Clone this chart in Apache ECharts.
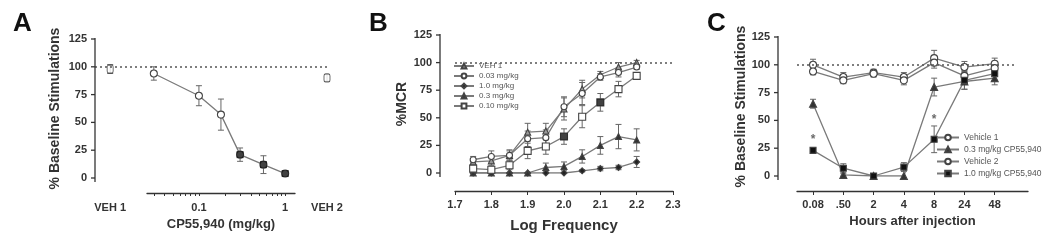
<!DOCTYPE html>
<html><head><meta charset="utf-8">
<script src="https://cdn.jsdelivr.net/npm/echarts@6/dist/echarts.min.js"></script>
<style>html,body{margin:0;padding:0;background:#fff}#c{width:1050px;height:241px}</style>
</head><body><div id="c"></div>
<script>
// ---------- Panel A ----------
const aDoses = [0.03, 0.1, 0.18, 0.3, 0.56, 1.0];
const aMeans = [94, 74, 57, 21, 12, 4];
const aErrs = [6, 9, 14, 6, 8, 2];
const aSignificant = [0, 0, 0, 1, 1, 1];
const aTickValues = [0.03,0.04,0.05,0.06,0.07,0.08,0.09,0.1,0.2,0.3,0.4,0.5,0.6,0.7,0.8,0.9,1];
const aLabelValues = [0.1, 1];
const vehLabels = ['VEH 1', 'VEH 2'];
const vehMeans = [98, 90];
const vehErrs = [4, 3];

// ---------- Panel B ----------
const bFreq = [1.75, 1.8, 1.85, 1.9, 1.95, 2.0, 2.05, 2.1, 2.15, 2.2];
const bNames = ['VEH 1', '0.03 mg/kg', '1.0 mg/kg', '0.3 mg/kg', '0.10 mg/kg'];
const bVeh1 = [10, 11, 16, 37, 38, 58, 76, 89, 96, 100];
const bVeh1Err = [3, 4, 4, 8, 7, 10, 8, 3, 4, 2];
const b003 = [12, 15, 16, 31, 32, 60, 72, 87, 91, 96];
const b003Err = [3, 5, 5, 7, 7, 9, 10, 3, 4, 2];
const b10 = [0, 0, 0, 0, 0, 0, 2, 4, 5, 10];
const b10Err = [0, 0, 0, 0, 0, 0, 1, 2, 2, 5];
const b03 = [0, 0, 0, 0, 5, 6, 15, 25, 33, 30];
const b03Err = [0, 0, 0, 0, 4, 4, 6, 8, 11, 10];
const b010 = [4, 3, 7, 20, 24, 33, 51, 64, 76, 88];
const b010Err = [3, 3, 4, 7, 7, 7, 10, 8, 7, 3];
const b010Significant = [0, 0, 0, 0, 0, 1, 0, 1, 0, 0];

// ---------- Panel C ----------
const cHours = ['0.08', '.50', '2', '4', '8', '24', '48'];
const cNames = ['Vehicle 1', '0.3 mg/kg CP55,940', 'Vehicle 2', '1.0 mg/kg CP55,940'];
const cVeh1 = [100, 89, 93, 89, 106, 98, 101];
const cVeh1Err = [5, 4, 3, 4, 7, 5, 5];
const cCp03 = [65, 1, 0, 0, 80, 85, 88];
const cCp03Err = [4, 1, 0, 0, 8, 7, 6];
const cVeh2 = [94, 86, 92, 86, 102, 90, 97];
const cVeh2Err = [3, 3, 3, 4, 5, 5, 5];
const cCp10 = [23, 7, 0, 8, 33, 86, 92];
const cCp10Err = [2, 4, 0, 4, 12, 8, 6];
const cStars = [[0, 33], [4, 51]];
const cIdx = cHours.map((_, i) => i);

const yMin = 0, yMax = 125, yInterval = 25;
const yTicks = [0, 25, 50, 75, 100, 125];
const baseline = 100;

// ---------- styles ----------
const FF = '"Liberation Sans", Arial, sans-serif';
const AX = '#333';
const LINE = '#7a7a7a';
const tickLbl = { color: AX, fontFamily: FF, fontWeight: 'bold', fontSize: 11 };
const nameStyle = (s) => ({ color: AX, fontFamily: FF, fontWeight: 'bold', fontSize: s });

function errSeries(xi, yi, xs, ys, es) {
  return {
    type: 'custom', xAxisIndex: xi, yAxisIndex: yi, z: 1, silent: true,
    data: xs.map((x, i) => [x, ys[i], es[i]]),
    encode: { x: 0, y: 1 },
    renderItem: function (params, api) {
      const x = api.value(0), y = api.value(1), e = api.value(2);
      if (!e) return null;
      const hi = api.coord([x, y + e]);
      const lo = api.coord([x, y - e]);
      const w = 3;
      const st = { stroke: '#666', lineWidth: 1 };
      return {
        type: 'group', children: [
          { type: 'line', shape: { x1: hi[0], y1: hi[1], x2: lo[0], y2: lo[1] }, style: st },
          { type: 'line', shape: { x1: hi[0] - w, y1: hi[1], x2: hi[0] + w, y2: hi[1] }, style: st },
          { type: 'line', shape: { x1: lo[0] - w, y1: lo[1], x2: lo[0] + w, y2: lo[1] }, style: st }
        ]
      };
    }
  };
}
// y-axis line and ticks, placed through the y scale, shifted left of the grid by an offset
function yAxisDraw(xi, yi, xAnchor, offset) {
  return {
    type: 'custom', xAxisIndex: xi, yAxisIndex: yi, z: 10, silent: true, clip: false,
    data: yTicks.map(v => [xAnchor, v]),
    encode: { x: 0, y: 1 },
    renderItem: function (params, api) {
      const x = params.coordSys.x - offset;
      const y = api.coord([api.value(0), api.value(1)])[1];
      const st = { stroke: AX, lineWidth: 1.3 };
      const children = [{ type: 'line', shape: { x1: x - 4, y1: y, x2: x, y2: y }, style: st }];
      if (params.dataIndex === 0) {
        const top = api.coord([api.value(0), yMax])[1];
        const bot = api.coord([api.value(0), yMin])[1];
        children.push({ type: 'line', shape: { x1: x, y1: top - 1, x2: x, y2: bot + 4 }, style: st });
      }
      return { type: 'group', children };
    }
  };
}
const dotted = { symbol: 'none', silent: true, label: { show: false },
  lineStyle: { type: [2, 3], color: '#555', width: 1.5 } };

function lineS(name, xi, yi, xs, ys, symbol, size, fill, z) {
  return {
    name, type: 'line', xAxisIndex: xi, yAxisIndex: yi, z: z || 3,
    data: xs.map((x, i) => [x, ys[i]]),
    symbol, symbolSize: size, showAllSymbol: true,
    itemStyle: { color: fill, borderColor: '#444', borderWidth: 1.1 },
    lineStyle: { color: LINE, width: 1.3 }
  };
}

const yBase = (gi, off, name, gap) => ({
  gridIndex: gi, type: 'value', min: yMin, max: yMax, interval: yInterval, offset: off,
  axisLine: { show: false, onZero: false },
  axisTick: { show: false },
  axisLabel: Object.assign({ margin: 8 }, tickLbl),
  splitLine: { show: false },
  name, nameLocation: 'middle', nameGap: gap, nameRotate: 90, nameTextStyle: nameStyle(14)
});
const titleStyle = { fontFamily: FF, fontWeight: 'bold', fontSize: 26, color: '#111' };

const option = {
  animation: false,
  title: [
    { text: 'A', left: 8, top: 6, textStyle: titleStyle },
    { text: 'B', left: 364, top: 6, textStyle: titleStyle },
    { text: 'C', left: 702, top: 6, textStyle: titleStyle }
  ],
  legend: [
    { data: bNames, orient: 'vertical', left: 453, top: 62, itemWidth: 20, itemHeight: 6, itemGap: 2,
      textStyle: { fontSize: 8, color: '#555', fontFamily: FF }, padding: 0 },
    { data: cNames, orient: 'vertical', left: 936, top: 133, itemWidth: 22, itemHeight: 7, itemGap: 3,
      textStyle: { fontSize: 8.5, color: '#555', fontFamily: FF }, padding: 0 }
  ],
  grid: [
    { left: 147, top: 39, width: 148, height: 139 },
    { left: 95, top: 39, width: 232, height: 139 },
    { left: 455, top: 35, width: 218, height: 138 },
    { left: 797, top: 37, width: 231, height: 139 }
  ],
  xAxis: [
    { gridIndex: 0, type: 'log', min: 0.025, max: 1.3, offset: 15,
      axisLine: { onZero: false, lineStyle: { color: AX, width: 1.3 } },
      axisTick: { show: true, customValues: aTickValues, length: 3, lineStyle: { color: AX } },
      axisLabel: Object.assign({ customValues: aLabelValues, margin: 9, formatter: v => String(+v) }, tickLbl),
      splitLine: { show: false },
      name: 'CP55,940 (mg/kg)', nameLocation: 'middle', nameGap: 23, nameTextStyle: nameStyle(13) },
    { gridIndex: 1, type: 'value', min: -0.07, max: 1, offset: 15,
      axisLine: { show: false, onZero: false }, axisTick: { show: false }, splitLine: { show: false },
      axisLabel: Object.assign({ customValues: [0, 1], margin: 9, formatter: v => vehLabels[Math.round(v)] }, tickLbl) },
    { gridIndex: 2, type: 'value', min: 1.7, max: 2.3, interval: 0.1, offset: 18,
      axisLine: { onZero: false, lineStyle: { color: AX, width: 1.3 } },
      axisTick: { show: true, length: 4, lineStyle: { color: AX } },
      axisLabel: Object.assign({ margin: 8, formatter: v => v.toFixed(1) }, tickLbl),
      splitLine: { show: false },
      name: 'Log Frequency', nameLocation: 'middle', nameGap: 27, nameTextStyle: nameStyle(15) },
    { gridIndex: 3, type: 'value', min: -0.53, max: 7.1, offset: 15,
      axisLine: { onZero: false, lineStyle: { color: AX, width: 1.3 } },
      axisTick: { show: true, customValues: cIdx, length: 4, lineStyle: { color: AX } },
      axisLabel: Object.assign({ customValues: cIdx, margin: 8, formatter: v => cHours[Math.round(v)] }, tickLbl),
      splitLine: { show: false },
      name: 'Hours after injection', nameLocation: 'middle', nameGap: 22, nameTextStyle: nameStyle(13) }
  ],
  yAxis: [
    yBase(0, 52, '% Baseline Stimulations', 33),
    { gridIndex: 1, type: 'value', min: yMin, max: yMax, show: false },
    yBase(2, 15, '%MCR', 31),
    yBase(3, 19, '% Baseline Stimulations', 29)
  ],
  series: [
    // y axes (line + ticks)
    yAxisDraw(0, 0, aDoses[0], 52),
    yAxisDraw(2, 2, bFreq[0], 15),
    yAxisDraw(3, 3, cIdx[0], 19),
    // Panel A
    errSeries(0, 0, aDoses, aMeans, aErrs),
    lineS('A', 0, 0, aDoses, aMeans, 'circle', 7, '#fff'),
    { type: 'scatter', xAxisIndex: 0, yAxisIndex: 0, z: 4, symbol: 'rect', symbolSize: 7,
      itemStyle: { color: '#111' },
      data: aDoses.map((d, i) => [d, aMeans[i]]).filter((_, i) => aSignificant[i]) },
    errSeries(1, 1, [0, 1], vehMeans, vehErrs),
    { type: 'scatter', xAxisIndex: 1, yAxisIndex: 1, z: 4, symbol: 'roundRect', symbolSize: [6, 8],
      itemStyle: { color: '#fff', borderColor: '#444', borderWidth: 1.1 },
      data: [0, 1].map(i => [i, vehMeans[i]]),
      markLine: Object.assign({ data: [{ yAxis: baseline }] }, dotted) },
    // Panel B
    errSeries(2, 2, bFreq, bVeh1, bVeh1Err),
    errSeries(2, 2, bFreq, b003, b003Err),
    errSeries(2, 2, bFreq, b10, b10Err),
    errSeries(2, 2, bFreq, b03, b03Err),
    errSeries(2, 2, bFreq, b010, b010Err),
    Object.assign(lineS(bNames[0], 2, 2, bFreq, bVeh1, 'triangle', 6, '#999'),
      { markLine: Object.assign({ data: [{ yAxis: baseline }] }, dotted) }),
    lineS(bNames[1], 2, 2, bFreq, b003, 'circle', 6, '#fff'),
    lineS(bNames[2], 2, 2, bFreq, b10, 'diamond', 6, '#222'),
    lineS(bNames[3], 2, 2, bFreq, b03, 'triangle', 6, '#333'),
    lineS(bNames[4], 2, 2, bFreq, b010, 'rect', 7, '#fff'),
    { type: 'scatter', xAxisIndex: 2, yAxisIndex: 2, z: 5, symbol: 'rect', symbolSize: 7,
      itemStyle: { color: '#111' },
      data: bFreq.map((f, i) => [f, b010[i]]).filter((_, i) => b010Significant[i]) },
    // Panel C
    errSeries(3, 3, cIdx, cVeh1, cVeh1Err),
    errSeries(3, 3, cIdx, cCp03, cCp03Err),
    errSeries(3, 3, cIdx, cVeh2, cVeh2Err),
    errSeries(3, 3, cIdx, cCp10, cCp10Err),
    Object.assign(lineS(cNames[0], 3, 3, cIdx, cVeh1, 'circle', 7, '#fff'),
      { markLine: Object.assign({ data: [[{ coord: [-0.53, baseline] }, { coord: [6.67, baseline] }]] }, dotted) }),
    lineS(cNames[1], 3, 3, cIdx, cCp03, 'triangle', 7, '#333'),
    lineS(cNames[2], 3, 3, cIdx, cVeh2, 'circle', 7, '#fff'),
    lineS(cNames[3], 3, 3, cIdx, cCp10, 'rect', 6, '#111'),
    { type: 'scatter', xAxisIndex: 3, yAxisIndex: 3, z: 5, symbolSize: 1, silent: true,
      itemStyle: { color: 'rgba(0,0,0,0)' },
      label: { show: true, position: 'inside', formatter: '*', fontSize: 12, fontWeight: 'bold', color: '#444', fontFamily: FF },
      data: cStars }
  ]
};
const chart = echarts.init(document.getElementById('c'), null, { renderer: 'canvas' });
chart.setOption(option);
</script>
</body></html>
